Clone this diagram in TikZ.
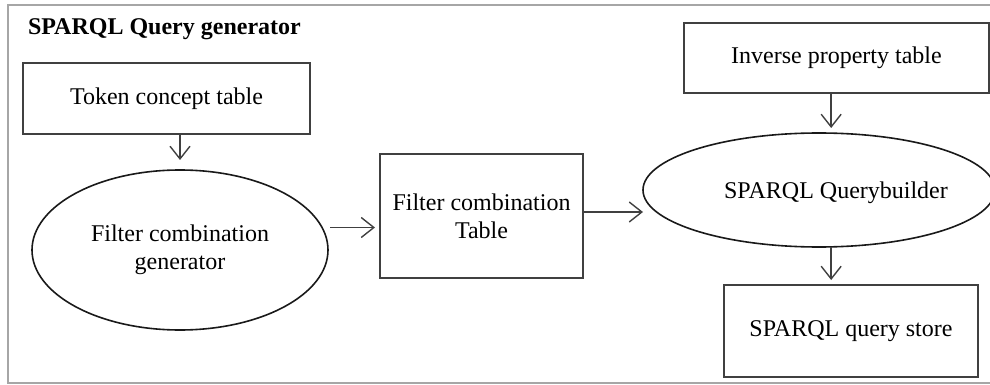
\documentclass[tikz,border=0pt]{standalone}
\usepackage{fontspec}
\setmainfont{Liberation Serif}
\usetikzlibrary{arrows.meta,shapes.geometric}
\begin{document}
\begin{tikzpicture}[x=0.75pt,y=-0.75pt,
  every node/.style={font=\fontsize{18pt}{21pt}\selectfont, inner sep=0pt, outer sep=0pt},
  tablebox/.style={draw=black!75, line width=1.5pt, rectangle, align=center},
  proc/.style={draw=black!90, line width=1.2pt, ellipse, align=center},
  flow/.style={draw=black!75, line width=1.05pt, -{Straight Barb[length=9.5pt,width=15pt]}},
  frameline/.style={draw=black!35, line width=1.5pt}]
\useasboundingbox (0,0) rectangle (990,385);

% outer frame (open to the right)
\draw[frameline] (1000,5) -- (8,5) -- (8,383) -- (1000,383);

% title
\node[anchor=base west, font=\fontsize{18pt}{21pt}\selectfont\bfseries] (title) at (28,35) {SPARQL Query generator};

% tables and processes
\node[tablebox, minimum width=215.25pt, minimum height=53.25pt] (tok) at (166.5,98.5) {Token concept table};
\node[proc, minimum width=222pt, minimum height=120pt] (e1) at (180,250) {Filter combination\\generator};
\node[tablebox, minimum width=152.25pt, minimum height=93pt] (tab) at (481.5,216) {Filter combination\\Table};
\node[tablebox, minimum width=228.75pt, minimum height=52.5pt] (inv) at (836.5,58) {Inverse property table};
\node[proc, minimum width=264pt, minimum height=85.5pt] (e2) at (819,190) {};
\node (e2txt) at (836,193) {SPARQL Querybuilder};
\node[tablebox, minimum width=190.5pt, minimum height=69pt] (store) at (851,331) {SPARQL query store};

% connectors
\coordinate (col) at ([xshift=-4pt]inv.south);
\draw[flow, shorten >=7.5pt] (tok.south -| e1.north) -- (e1.north);
\draw[flow, shorten <=6pt, shorten >=3.75pt] (e1.9) -- (e1.9 -| tab.west);
\draw[flow] ([yshift=3pt]tab.east) -- ([yshift=3pt]tab.east -| e2.west);
\draw[flow, shorten >=3.75pt] (col) -- (col |- e2.north);
\draw[flow, shorten >=3.75pt] (col |- e2.south) -- (col |- store.north);
\end{tikzpicture}
\end{document}
